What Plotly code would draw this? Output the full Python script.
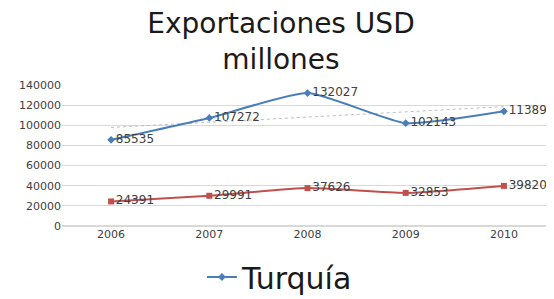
import numpy as np
import plotly.graph_objects as go

years = ["2006", "2007", "2008", "2009", "2010"]
turquia = [85535, 107272, 132027, 102143, 113899]
serie2 = [24391, 29991, 37626, 32853, 39820]
y_ticks = [0, 20000, 40000, 60000, 80000, 100000, 120000, 140000]

# linear trend of Turquía (least squares, as in the source chart)
xi = np.arange(len(years))
coef = np.polyfit(xi, turquia, 1)
trend = list(np.polyval(coef, xi))

W, H = 546, 291  # page adds an 8px body margin

fig = go.Figure()
fig.add_trace(go.Scatter(
    x=years, y=trend, mode="lines", showlegend=False, hoverinfo="skip",
    line=dict(color="#bfbfbf", width=1, dash="dot")))
fig.add_trace(go.Scatter(
    x=years, y=serie2, mode="lines+markers+text", showlegend=False,
    text=[str(v) for v in serie2], textposition="middle right",
    textfont=dict(family="DejaVu Sans", size=12, color="#404040"),
    line=dict(color="#c0504d", width=2, shape="spline", smoothing=0.5),
    marker=dict(symbol="square", size=6, color="#c0504d")))
fig.add_trace(go.Scatter(
    x=years, y=turquia, mode="lines+markers+text", name="Turquía",
    text=[str(v) for v in turquia], textposition="middle right",
    textfont=dict(family="DejaVu Sans", size=12, color="#404040"),
    line=dict(color="#4a7ebb", width=2, shape="spline", smoothing=0.5),
    marker=dict(symbol="diamond", size=6, color="#4a7ebb")))

fig.update_layout(
    width=W, height=H,
    margin=dict(l=54, r=1, t=77, b=73),
    paper_bgcolor="white", plot_bgcolor="white",
    title=dict(text="Exportaciones USD<br>millones", xref="container", x=0.5,
               xanchor="center", yref="container", y=1 - 25 / H, yanchor="middle",
               font=dict(family="DejaVu Sans", size=28, color="#1a1a1a")),
    showlegend=True,
    legend=dict(orientation="h", x=0.285, xanchor="left",
                yref="container", y=1 - 243 / H, yanchor="top",
                font=dict(family="DejaVu Sans", size=30, color="#1a1a1a")),
    xaxis=dict(type="category", range=[-0.5, 4.5], showgrid=False, showline=False,
               ticks="", tickfont=dict(family="DejaVu Sans", size=11, color="#404040")),
    yaxis=dict(range=[0, 140000], tickvals=y_ticks, ticktext=[str(v) for v in y_ticks],
               showgrid=True, gridcolor="#d9d9d9", gridwidth=1, zeroline=True,
               zerolinecolor="#d9d9d9", showline=False, ticks="",
               tickfont=dict(family="DejaVu Sans", size=11, color="#404040")),
)
fig.write_html("out.html")
